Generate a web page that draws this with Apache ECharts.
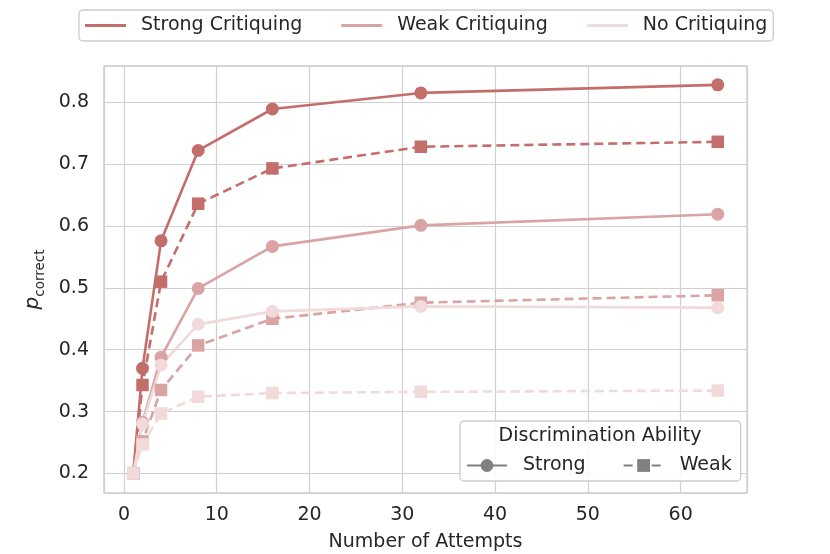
<!DOCTYPE html>
<html>
<head>
<meta charset="utf-8">
<script src="https://cdn.jsdelivr.net/npm/echarts@6/dist/echarts.min.js"></script>
<style>
html,body{margin:0;padding:0;background:#fff;}
#chart{width:830px;height:554px;}
</style>
</head>
<body>
<div id="chart"></div>
<script>
const attempts = [1, 2, 4, 8, 16, 32, 64];
const strongCritStrongDisc = [0.200, 0.370, 0.576, 0.722, 0.789, 0.815, 0.828];
const strongCritWeakDisc   = [0.200, 0.343, 0.510, 0.636, 0.693, 0.728, 0.736];
const weakCritStrongDisc   = [0.200, 0.283, 0.388, 0.499, 0.567, 0.601, 0.619];
const weakCritWeakDisc     = [0.200, 0.252, 0.335, 0.407, 0.450, 0.476, 0.488];
const noCritStrongDisc     = [0.200, 0.280, 0.375, 0.441, 0.462, 0.470, 0.468];
const noCritWeakDisc       = [0.200, 0.247, 0.297, 0.324, 0.330, 0.332, 0.334];
const critiquingNames = ['Strong Critiquing', 'Weak Critiquing', 'No Critiquing'];
const discNames = ['Strong', 'Weak'];
const legendTitle = 'Discrimination Ability';
const xName = 'Number of Attempts';

const colors = {'Strong Critiquing': '#c46e6c', 'Weak Critiquing': '#d9a4a3', 'No Critiquing': '#f1dad9'};
const FONT = 'DejaVu Sans';
const TXT = '#262626';

function pts(ys) { return attempts.map((x, i) => [x, ys[i]]); }

function mk(name, ys, disc) {
  const isWeak = disc === 'Weak';
  return {
    name: name,
    type: 'line',
    data: pts(ys),
    color: colors[name],
    symbol: isWeak ? 'rect' : 'circle',
    symbolSize: isWeak ? 12.5 : 13,
    showAllSymbol: true,
    lineStyle: {width: 2.6, type: isWeak ? [9, 5] : 'solid', color: colors[name]},
    itemStyle: {color: colors[name]},
    emphasis: {disabled: true},
    animation: false
  };
}

const series = [
  mk('Strong Critiquing', strongCritStrongDisc, 'Strong'),
  mk('Strong Critiquing', strongCritWeakDisc, 'Weak'),
  mk('Weak Critiquing', weakCritStrongDisc, 'Strong'),
  mk('Weak Critiquing', weakCritWeakDisc, 'Weak'),
  mk('No Critiquing', noCritStrongDisc, 'Strong'),
  mk('No Critiquing', noCritWeakDisc, 'Weak'),
  {name: 'Strong', type: 'line', data: [], color: '#808080', symbol: 'circle', symbolSize: 13,
   lineStyle: {width: 2.6, color: '#808080'}, itemStyle: {color: '#808080'}},
  {name: 'Weak', type: 'line', data: [], color: '#808080', symbol: 'rect', symbolSize: 12.5,
   lineStyle: {width: 2.6, color: '#808080', type: [9, 5]}, itemStyle: {color: '#808080'}}
];

const chart = echarts.init(document.getElementById('chart'), null, {renderer: 'canvas'});
chart.setOption({
  animation: false,
  backgroundColor: '#ffffff',
  textStyle: {fontFamily: FONT},
  grid: {left: 104, right: 83, top: 66, bottom: 61, containLabel: false, outerBoundsMode: 'none',
         show: true, borderColor: '#cccccc', borderWidth: 1.3, backgroundColor: '#ffffff'},
  xAxis: {
    type: 'value', min: -2.15, max: 67.15, splitNumber: 7,
    name: xName, nameLocation: 'middle', nameGap: 40,
    nameTextStyle: {fontSize: 19, color: TXT, fontFamily: FONT},
    axisLine: {show: false}, axisTick: {show: false},
    axisLabel: {fontSize: 19, color: TXT, fontFamily: FONT, margin: 13, showMinLabel: false, showMaxLabel: false},
    splitLine: {show: true, lineStyle: {color: '#d0d0d0', width: 1.2}}
  },
  yAxis: {
    type: 'value', min: 0.1685, max: 0.8585, splitNumber: 7,
    name: '{p|p}{s|correct}', nameLocation: 'middle', nameGap: 54, nameRotate: 90,
    nameTextStyle: {
      color: TXT, fontFamily: FONT,
      rich: {
        p: {fontSize: 20, fontStyle: 'italic', color: TXT, fontFamily: FONT, verticalAlign: 'middle', lineHeight: 30},
        s: {fontSize: 13.5, color: TXT, fontFamily: FONT, verticalAlign: 'bottom', lineHeight: 30}
      }
    },
    axisLine: {show: false}, axisTick: {show: false},
    axisLabel: {fontSize: 19, color: TXT, fontFamily: FONT, margin: 15, showMinLabel: false, showMaxLabel: false,
      formatter: v => v.toFixed(1)},
    splitLine: {show: true, lineStyle: {color: '#d0d0d0', width: 1.2}}
  },
  legend: [
    {
      data: critiquingNames,
      left: 79, top: 10,
      orient: 'horizontal',
      icon: 'rect', itemWidth: 41, itemHeight: 3.2, itemGap: 39,
      padding: [6, 6, 6, 6],
      borderColor: '#cccccc', borderWidth: 1.3, borderRadius: 4,
      backgroundColor: '#ffffff',
      selectedMode: false,
      textStyle: {fontSize: 19, color: TXT, fontFamily: FONT, padding: [0, 0, 0, 10]}
    },
    {
      data: discNames,
      left: 460, top: 421,
      orient: 'horizontal',
      itemWidth: 40, itemHeight: 16, itemGap: 37,
      padding: [35, 9, 6, 6],
      borderColor: '#cccccc', borderWidth: 1.3, borderRadius: 4,
      backgroundColor: 'rgba(255,255,255,0.85)',
      selectedMode: false,
      textStyle: {fontSize: 19, color: TXT, fontFamily: FONT, padding: [0, 0, 0, 11]}
    }
  ],
  graphic: [
    {type: 'text', z: 100, x: 600, y: 427,
     style: {text: legendTitle, fill: TXT, fontSize: 19, fontFamily: FONT, align: 'center', verticalAlign: 'top'}}
  ],
  series: series
});
</script>
</body>
</html>
